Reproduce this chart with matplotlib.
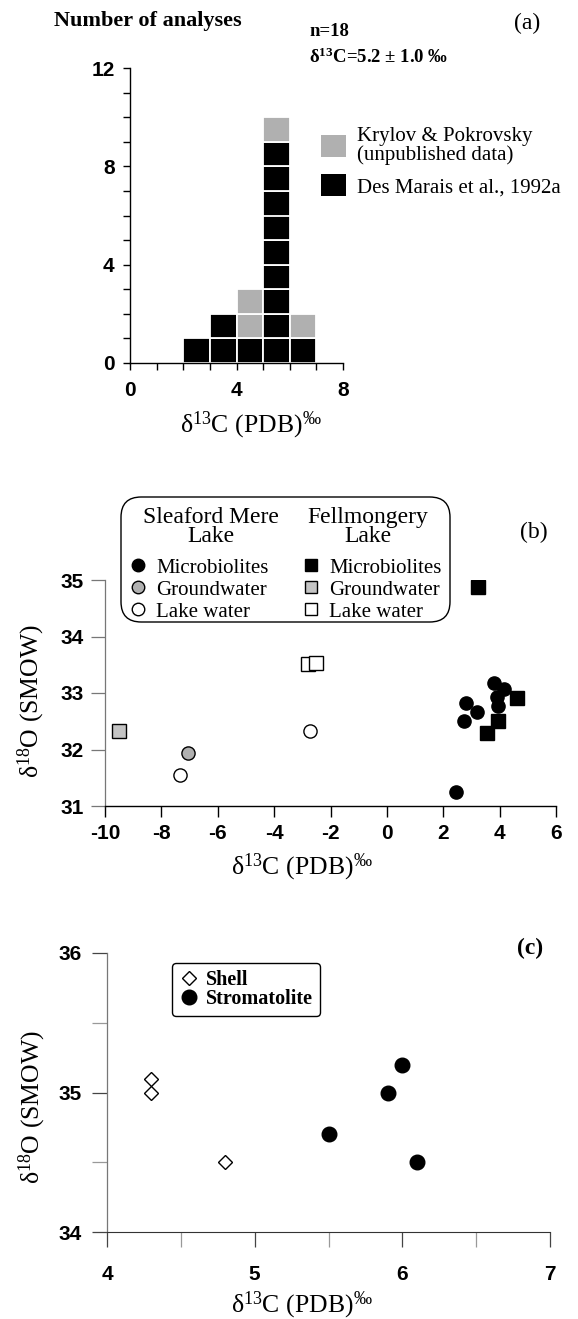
import matplotlib
matplotlib.use('Agg')
import matplotlib.pyplot as plt
from matplotlib.lines import Line2D
from matplotlib.patches import Patch, FancyBboxPatch

plt.rcParams['font.family'] = ['Liberation Serif', 'DejaVu Serif']
plt.rcParams['mathtext.fontset'] = 'custom'
plt.rcParams['mathtext.rm'] = 'Liberation Serif'
plt.rcParams['mathtext.it'] = 'Liberation Serif:italic'
plt.rcParams['mathtext.bf'] = 'Liberation Serif:bold'

# ---- (a) histogram of d13C, stacked unit cells
bin_left = [2, 3, 4, 5, 6]
count_des_marais = [1, 2, 1, 9, 1]
count_krylov = [0, 0, 2, 1, 1]

# ---- (b) Sleaford Mere Lake (circles) / Fellmongery Lake (squares)
sm_micro_x = [2.8, 2.75, 3.2, 3.8, 4.15, 3.92, 3.93, 2.45]
sm_micro_y = [32.82, 32.5, 32.67, 33.17, 33.07, 32.93, 32.77, 31.24]
sm_ground_x = [-7.07]
sm_ground_y = [31.93]
sm_lake_x = [-7.35, -2.72]
sm_lake_y = [31.55, 32.32]
fm_micro_x = [3.22, 4.62, 3.95, 3.56]
fm_micro_y = [34.88, 32.92, 32.51, 32.30]
fm_ground_x = [-9.5]
fm_ground_y = [32.32]
fm_lake_x = [-2.8, -2.53]
fm_lake_y = [33.51, 33.53]

# ---- (c) shells vs stromatolites
shell_x = [4.3, 4.3, 4.8]
shell_y = [35.1, 35.0, 34.5]
strom_x = [6.0, 5.9, 5.5, 6.1]
strom_y = [35.2, 35.0, 34.7, 34.5]

W, H = 578, 1319
GREY = '#b0b0b0'
TICKFONT = dict(fontfamily='Liberation Sans', fontweight='bold', fontsize=15)
XLAB = 'δ$^{13}$C (PDB)$^{‰}$'
YLAB = 'δ$^{18}$O (SMOW)'


def fx(px):
    return px / W


def fy(py):
    return 1 - py / H


def axes_px(left, top, right, bottom):
    return [fx(left), fy(bottom), (right - left) / W, (bottom - top) / H]


fig = plt.figure(figsize=(W / 100, H / 100), dpi=100)

# ================= (a)
ax_a = fig.add_axes(axes_px(130, 68, 343, 363))
for x, nb, ng in zip(bin_left, count_des_marais, count_krylov):
    for k in range(nb):
        ax_a.bar(x, 1, bottom=k, width=1, align='edge', color='black',
                 edgecolor='white', linewidth=1.3)
    for k in range(ng):
        ax_a.bar(x, 1, bottom=nb + k, width=1, align='edge', color=GREY,
                 edgecolor='white', linewidth=1.3)
ax_a.set_xlim(0, 8)
ax_a.set_ylim(0, 12)
for s in ['top', 'right']:
    ax_a.spines[s].set_visible(False)
ax_a.spines['left'].set_linewidth(1.0)
ax_a.spines['bottom'].set_linewidth(1.0)
ax_a.set_xticks([0, 4, 8], ['0', '4', '8'], **TICKFONT)
ax_a.set_xticks(range(9), minor=True)
ax_a.set_yticks([0, 4, 8, 12], ['0', '4', '8', '12'], **TICKFONT)
ax_a.set_yticks(range(13), minor=True)
ax_a.tick_params(which='both', direction='out', length=5, width=1)
ax_a.tick_params(axis='x', pad=8)
ax_a.tick_params(axis='y', pad=6)
ax_a.set_xlabel(XLAB, fontsize=18.5, va='center')
ax_a.xaxis.set_label_coords(0.568, -0.21)

leg_a = ax_a.legend(
    [Patch(facecolor=GREY, edgecolor='none'), Patch(facecolor='black', edgecolor='none')],
    ['Krylov & Pokrovsky\n(unpublished data)', 'Des Marais et al., 1992a'],
    loc='upper left', bbox_to_anchor=(fx(321), fy(127)), bbox_transform=fig.transFigure,
    frameon=False, fontsize=15, handlelength=1.2, handleheight=1.2,
    handletextpad=0.55, labelspacing=0.45, borderpad=0, borderaxespad=0)
for t in leg_a.get_texts():
    t.set_linespacing(0.95)

fig.text(fx(54), fy(21), 'Number of analyses', fontsize=16, fontweight='bold',
         fontfamily='Liberation Serif', va='center')
fig.text(fx(527), fy(23), '(a)', fontsize=17, ha='center', va='center')
fig.text(fx(309), fy(32), 'n=18', fontsize=13.5, fontweight='bold', va='center')
fig.text(fx(309), fy(57), 'δ$^{\\mathbf{13}}$C=5.2 ± 1.0 ‰', fontsize=13.5,
         fontweight='bold', va='center')

# ================= (b)
ax_b = fig.add_axes(axes_px(105, 580, 556, 806))
ms_b = 9.5
ax_b.plot(sm_micro_x, sm_micro_y, 'o', ms=ms_b, mfc='black', mec='black', ls='none')
ax_b.plot(sm_ground_x, sm_ground_y, 'o', ms=ms_b, mfc=GREY, mec='black', mew=1, ls='none')
ax_b.plot(sm_lake_x, sm_lake_y, 'o', ms=ms_b, mfc='white', mec='black', mew=1, ls='none')
ax_b.plot(fm_micro_x, fm_micro_y, 's', ms=ms_b, mfc='black', mec='black', ls='none')
ax_b.plot(fm_ground_x, fm_ground_y, 's', ms=ms_b, mfc='#c4c4c4', mec='black', mew=1, ls='none')
ax_b.plot(fm_lake_x, fm_lake_y, 's', ms=ms_b, mfc='white', mec='black', mew=1, ls='none')
ax_b.set_xlim(-10, 6)
ax_b.set_ylim(31, 35)
for s in ['top', 'right']:
    ax_b.spines[s].set_visible(False)
ax_b.spines['left'].set_color('#777777')
ax_b.spines['left'].set_linewidth(0.9)
ax_b.spines['bottom'].set_linewidth(1.0)
xt_b = list(range(-10, 7, 2))
ax_b.set_xticks(xt_b, [str(v) for v in xt_b], **TICKFONT)
yt_b = [31, 32, 33, 34, 35]
ax_b.set_yticks(yt_b, [str(v) for v in yt_b], **TICKFONT)
ax_b.tick_params(axis='x', direction='out', length=8, width=1, pad=5)
ax_b.tick_params(axis='y', direction='out', length=10, width=0.9, color='#777777', pad=5)
ax_b.set_xlabel(XLAB, fontsize=18.5, va='center')
ax_b.xaxis.set_label_coords(0.437, -0.27)
ax_b.set_ylabel(YLAB, fontsize=18.5, va='center', ha='center')
ax_b.yaxis.set_label_coords(-0.164, 0.465)

lab_b = ['Microbiolites', 'Groundwater', 'Lake water']
h_sm = [Line2D([], [], marker='o', ls='none', ms=9, mfc=c, mec='black', mew=1)
        for c in ['black', GREY, 'white']]
h_fm = [Line2D([], [], marker='s', ls='none', ms=8.5, mfc=c, mec='black', mew=1)
        for c in ['black', '#c4c4c4', 'white']]
common = dict(loc='upper left', bbox_transform=fig.transFigure, frameon=False,
              fontsize=15, handlelength=1.0, handletextpad=0.35,
              labelspacing=0.12, borderpad=0, borderaxespad=0)
leg_b1 = ax_b.legend(h_sm, lab_b, bbox_to_anchor=(fx(128), fy(558)), **common)
ax_b.add_artist(leg_b1)
leg_b2 = ax_b.legend(h_fm, lab_b, bbox_to_anchor=(fx(301), fy(558)), **common)
for cx, title in [(211, 'Sleaford Mere\nLake'), (368, 'Fellmongery\nLake')]:
    fig.text(fx(cx), fy(527), title, fontsize=17, ha='center', va='center',
             multialignment='center', linespacing=0.9)
box = FancyBboxPatch((fx(121), fy(622)), (450 - 121) / W, (622 - 497) / H,
                     boxstyle='round,pad=0,rounding_size=0.035', mutation_aspect=W / H,
                     transform=fig.transFigure, facecolor='none', edgecolor='black',
                     linewidth=1.0, clip_on=False)
fig.patches.append(box)
fig.text(fx(534), fy(532), '(b)', fontsize=17, ha='center', va='center')

# ================= (c)
ax_c = fig.add_axes(axes_px(107, 953, 550, 1232))
ax_c.plot(shell_x, shell_y, 'D', ms=7, mfc='white', mec='black', mew=1, ls='none')
ax_c.plot(strom_x, strom_y, 'o', ms=10.5, mfc='black', mec='black', ls='none')
ax_c.set_xlim(4, 7)
ax_c.set_ylim(34, 36)
for s in ['top', 'right']:
    ax_c.spines[s].set_visible(False)
ax_c.spines['left'].set_color('#777777')
ax_c.spines['left'].set_linewidth(0.9)
ax_c.spines['bottom'].set_color('#333333')
xt_c = [4, 5, 6, 7]
ax_c.set_xticks(xt_c, [str(v) for v in xt_c], **TICKFONT)
ax_c.set_xticks([4.5, 5.5, 6.5], minor=True)
yt_c = [34, 35, 36]
ax_c.set_yticks(yt_c, [str(v) for v in yt_c], **TICKFONT)
ax_c.set_yticks([34.5, 35.5], minor=True)
ax_c.tick_params(which='both', direction='out', length=11, width=0.9)
ax_c.tick_params(which='major', color='#444444')
ax_c.tick_params(which='minor', color='#999999')
ax_c.tick_params(axis='x', which='major', pad=13)
ax_c.tick_params(axis='y', which='major', pad=7)
ax_c.set_xlabel(XLAB, fontsize=18.5, va='center')
ax_c.xaxis.set_label_coords(0.44, -0.262)
ax_c.set_ylabel(YLAB, fontsize=18.5, va='center', ha='center')
ax_c.yaxis.set_label_coords(-0.169, 0.448)

leg_c = ax_c.legend(
    [Line2D([], [], marker='D', ls='none', ms=7, mfc='white', mec='black', mew=1),
     Line2D([], [], marker='o', ls='none', ms=10.5, mfc='black', mec='black')],
    ['Shell', 'Stromatolite'],
    loc='upper left', bbox_to_anchor=(fx(172), fy(963)), bbox_transform=fig.transFigure,
    prop={'family': 'Liberation Serif', 'weight': 'bold', 'size': 14.5},
    fancybox=True, edgecolor='black', framealpha=1, handlelength=1.0,
    handletextpad=0.35, labelspacing=-0.05, borderpad=0.35, borderaxespad=0)
leg_c.get_frame().set_linewidth(1.0)
fig.text(fx(530), fy(948), '(c)', fontsize=17, fontweight='bold', ha='center', va='center')

fig.savefig('out.png', dpi=100)
